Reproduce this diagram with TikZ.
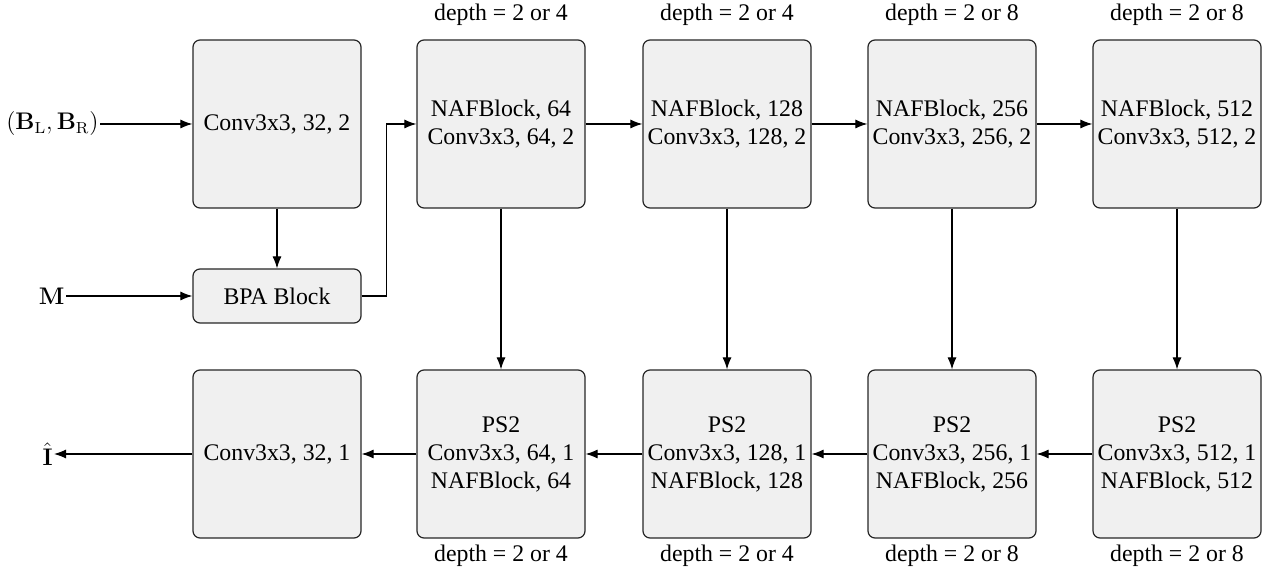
\documentclass[tikz,border=0pt]{standalone}
\usepackage[no-math]{fontspec}
\setmainfont{Liberation Serif}
\usetikzlibrary{positioning,arrows.meta}

\tikzset{
  blk/.style={draw=black!85, fill=black!6, rounded corners=3.5pt, line width=0.6pt,
    minimum width=84pt, minimum height=84pt, align=center, inner sep=1pt,
    font=\fontsize{11.9}{14}\selectfont},
  flatblk/.style={blk, minimum height=27pt},
  arr/.style={-{Latex[length=6pt,width=4.5pt]}, line width=0.55pt},
  dlabel/.style={inner sep=0pt, font=\fontsize{11.9}{14}\selectfont},
  iolabel/.style={inner sep=0.5pt, font=\fontsize{11.9}{14}\selectfont}
}

\begin{document}
\begin{tikzpicture}[x=0.5pt, y=-0.5pt]
  \useasboundingbox (0,0) rectangle (1264,582);

  % encoder
  \node[blk] (enc0) at (277,124) {Conv3x3, 32, 2};
  \node[flatblk] (bpa) at (277,296) {BPA Block};
  \node[blk] (enc1) at (501,124) {NAFBlock, 64\\Conv3x3, 64, 2};
  \node[blk] (enc2) at (727,124) {NAFBlock, 128\\Conv3x3, 128, 2};
  \node[blk] (enc3) at (952,124) {NAFBlock, 256\\Conv3x3, 256, 2};
  \node[blk] (enc4) at (1177,124) {NAFBlock, 512\\Conv3x3, 512, 2};

  % decoder
  \node[blk] (dec0) at (277,454) {Conv3x3, 32, 1};
  \node[blk] (dec1) at (501,454) {PS2\\Conv3x3, 64, 1\\NAFBlock, 64};
  \node[blk] (dec2) at (727,454) {PS2\\Conv3x3, 128, 1\\NAFBlock, 128};
  \node[blk] (dec3) at (952,454) {PS2\\Conv3x3, 256, 1\\NAFBlock, 256};
  \node[blk] (dec4) at (1177,454) {PS2\\Conv3x3, 512, 1\\NAFBlock, 512};

  % inputs and output
  \node[iolabel, anchor=east] (inB) at (100,124) {$(\mathbf{B}_\mathrm{L},\mathbf{B}_\mathrm{R})$};
  \node[iolabel, anchor=east] (inM) at (66,296) {$\mathbf{M}$};
  \node[iolabel, anchor=east] (outI) at (54,454) {$\hat{\mathbf{I}}$};

  % depths
  \node[dlabel] (dt1) at (501,15) {depth = 2 or 4};
  \node[dlabel] (dt2) at (727,15) {depth = 2 or 4};
  \node[dlabel] (dt3) at (952,15) {depth = 2 or 8};
  \node[dlabel] (dt4) at (1177,15) {depth = 2 or 8};
  \node[dlabel] (db1) at (501,556) {depth = 2 or 4};
  \node[dlabel] (db2) at (727,556) {depth = 2 or 4};
  \node[dlabel] (db3) at (952,556) {depth = 2 or 8};
  \node[dlabel] (db4) at (1177,556) {depth = 2 or 8};

  \draw[arr] (inB) -- (enc0);
  \draw[arr] (inM) -- (bpa);
  \draw[arr] (enc0) -- (bpa);
  \draw[arr] (bpa.east) -- ++(25,0) |- (enc1.west);
  \draw[arr] (enc1) -- (enc2);
  \draw[arr] (enc2) -- (enc3);
  \draw[arr] (enc3) -- (enc4);

  \draw[arr] (enc1) -- (dec1);
  \draw[arr] (enc2) -- (dec2);
  \draw[arr] (enc3) -- (dec3);
  \draw[arr] (enc4) -- (dec4);

  \draw[arr] (dec4) -- (dec3);
  \draw[arr] (dec3) -- (dec2);
  \draw[arr] (dec2) -- (dec1);
  \draw[arr] (dec1) -- (dec0);
  \draw[arr] (dec0) -- (outI);
\end{tikzpicture}
\end{document}
